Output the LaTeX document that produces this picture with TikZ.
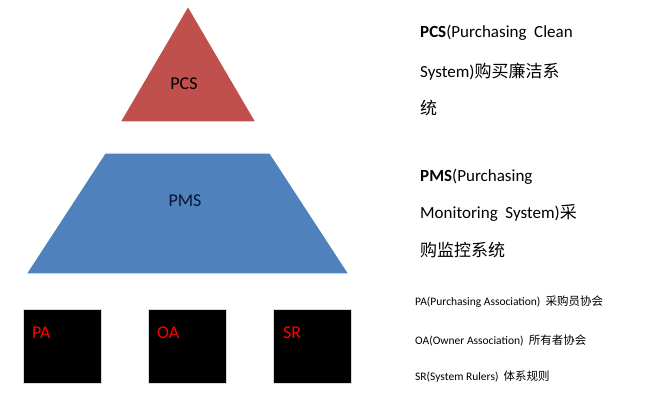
\documentclass[tikz,border=0pt]{standalone}
\usepackage{fontspec}
\setmainfont{Carlito}
\newfontfamily\cjk{Noto Sans CJK SC}
\usetikzlibrary{positioning}

\begin{document}
\begin{tikzpicture}[x=1pt,y=-1pt,
        every node/.style={inner sep=0pt},
        layer/.style={draw=white, line width=1.2pt},
        blackbox/.style={fill=black, draw=gray!30, line width=1pt, minimum width=78pt, minimum height=74pt},
        boxlabel/.style={text=red, font=\fontsize{18}{20}\selectfont, anchor=west},
        bigtext/.style={anchor=west, font=\fontsize{17}{20}\selectfont},
        smalltext/.style={anchor=west, font=\fontsize{11.5}{14}\selectfont}
    ]
    \useasboundingbox (0,0) rectangle (663,414);

    % Layers
    \draw[layer, fill={rgb,255:red,192;green,80;blue,77}] (188,6) -- (256,122) -- (120,122) -- cycle;
    \node[font=\fontsize{18}{20}\selectfont] (pcs) at (184,84) {PCS};
    \draw[layer, fill={rgb,255:red,79;green,129;blue,189}] (105,153) -- (270,153) -- (349,274) -- (26,274) -- cycle;
    \node[font=\fontsize{18}{20}\selectfont, text={rgb,255:red,10;green,20;blue,50}] (pms) at (185,201) {PMS};

    % Boxes
    \node[blackbox] (pabox) at (62,346) {};
    \node[blackbox] (oabox) at (187,346) {};
    \node[blackbox] (srbox) at (312,346) {};
    \node[boxlabel] (pa) at (32,333) {PA};
    \node[boxlabel] (oa) at (157,333) {OA};
    \node[boxlabel] (sr) at (283,333) {SR};

    % Descriptions
    \node[bigtext] (pcs1) at (420,33) {\textbf{PCS}(Purchasing\ \ Clean};
    \node[bigtext] (pcs2) at (420,72) {System){\cjk 购买廉洁系}};
    \node[bigtext] (pcs3) at (420,108) {{\cjk 统}};
    \node[bigtext] (pms1) at (420,177) {\textbf{PMS}(Purchasing};
    \node[bigtext] (pms2) at (420,213) {Monitoring\ \ System){\cjk 采}};
    \node[bigtext] (pms3) at (420,250) {{\cjk 购监控系统}};
    \node[smalltext] (pad) at (415,302) {PA(Purchasing Association)\ \ {\cjk 采购员协会}};
    \node[smalltext] (oad) at (415,340) {OA(Owner Association)\ \ {\cjk 所有者协会}};
    \node[smalltext] (srd) at (415,377) {SR(System Rulers)\ \ {\cjk 体系规则}};
\end{tikzpicture}
\end{document}
